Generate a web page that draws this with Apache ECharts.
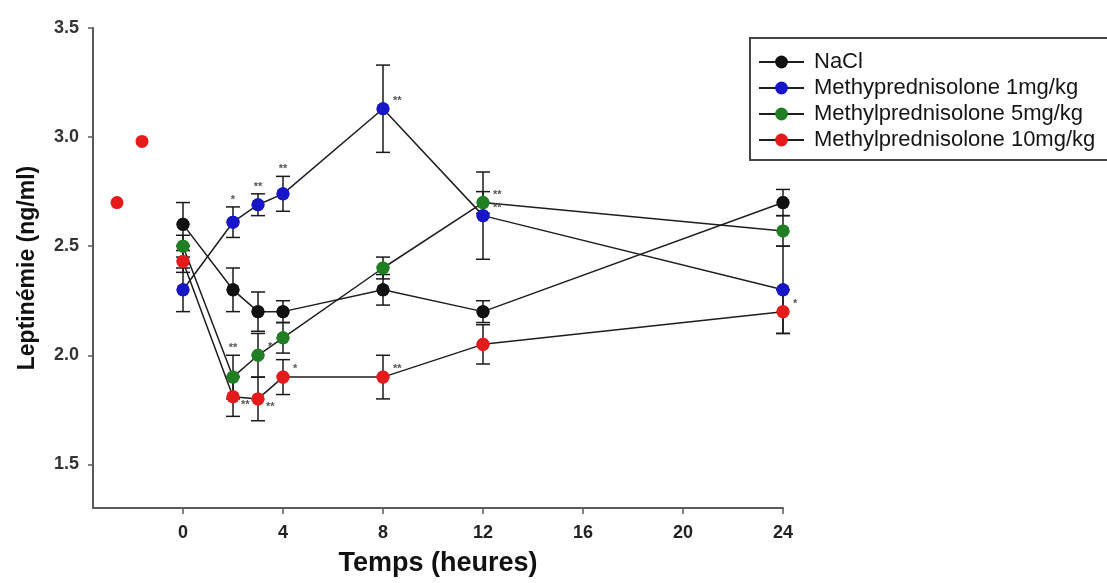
<!DOCTYPE html>
<html>
<head>
<meta charset="utf-8">
<script src="https://cdn.jsdelivr.net/npm/echarts@6/dist/echarts.min.js"></script>
<style>
  html, body { margin: 0; padding: 0; background: #ffffff; }
  #chart { width: 1107px; height: 583px; }
</style>
</head>
<body>
<div id="chart"></div>
<script>
// ---- data ----
const times = [0, 2, 3, 4, 8, 12, 24];
const seriesNames = ['NaCl', 'Methyprednisolone 1mg/kg', 'Methylprednisolone 5mg/kg', 'Methylprednisolone 10mg/kg'];
const naclValues = [2.60, 2.30, 2.20, 2.20, 2.30, 2.20, 2.70];
const naclErrors = [0.10, 0.10, 0.09, 0.05, 0.07, 0.05, 0.06];
const mp1Values = [2.30, 2.61, 2.69, 2.74, 3.13, 2.64, 2.30];
const mp1Errors = [0.10, 0.07, 0.05, 0.08, 0.20, 0.20, 0.20];
const mp5Values = [2.50, 1.90, 2.00, 2.08, 2.40, 2.70, 2.57];
const mp5Errors = [0.05, 0.10, 0.10, 0.07, 0.05, 0.05, 0.07];
const mp10Values = [2.43, 1.81, 1.80, 1.90, 1.90, 2.05, 2.20];
const mp10Errors = [0.05, 0.09, 0.10, 0.08, 0.10, 0.09, 0.10];
const naclSig = ['', '', '', '', '', '', ''];
const mp1Sig = ['', '*', '**', '**', '**', '**', ''];
const mp5Sig = ['', '**', '*', '', '', '**', ''];
const mp10Sig = ['', '**', '**', '*', '**', '', '*'];
const extraRedTimes = [-2.64, -1.64];
const extraRedValues = [2.70, 2.98];
const yTicks = [1.5, 2.0, 2.5, 3.0, 3.5];
const xTicks = [0, 4, 8, 12, 16, 20, 24];

// ---- styling ----
const FONT = "'Liberation Sans', Arial, sans-serif";
const colors = ['#111111', '#1616c8', '#1f7f22', '#e51b1b'];
const allValues = [naclValues, mp1Values, mp5Values, mp10Values];
const allErrors = [naclErrors, mp1Errors, mp5Errors, mp10Errors];
const allSig = [naclSig, mp1Sig, mp5Sig, mp10Sig];
// where the significance marks sit relative to the point
const sigAbove = { '1-1': 1, '1-2': 1, '1-3': 1, '2-1': 1 };
const sigBelow = { '3-1': 1, '3-2': 1 };

const series = [];
// connecting lines (first, so the legend takes its icon from them)
allValues.forEach((vals, si) => {
  series.push({
    type: 'line',
    name: seriesNames[si],
    z: 2,
    symbol: 'circle',
    symbolSize: 13,
    itemStyle: { color: colors[si], opacity: 1 },
    lineStyle: { color: '#1e1e1e', width: 1.5 },
    data: times.map((t, i) => [t, vals[i]])
  });
});
// error bars
allValues.forEach((vals, si) => {
  series.push({
    type: 'custom',
    name: seriesNames[si],
    z: 1,
    silent: true,
    data: times.map((t, i) => [t, vals[i] - allErrors[si][i], vals[i] + allErrors[si][i]]),
    renderItem: function (params, api) {
      const lo = api.coord([api.value(0), api.value(1)]);
      const hi = api.coord([api.value(0), api.value(2)]);
      const hw = 7;
      const st = { stroke: '#1a1a1a', lineWidth: 1.5 };
      return {
        type: 'group',
        children: [
          { type: 'line', shape: { x1: lo[0], y1: lo[1], x2: hi[0], y2: hi[1] }, style: st },
          { type: 'line', shape: { x1: lo[0] - hw, y1: lo[1], x2: lo[0] + hw, y2: lo[1] }, style: st },
          { type: 'line', shape: { x1: hi[0] - hw, y1: hi[1], x2: hi[0] + hw, y2: hi[1] }, style: st }
        ]
      };
    }
  });
});
// markers on top
allValues.forEach((vals, si) => {
  series.push({
    type: 'scatter',
    name: seriesNames[si],
    z: 4,
    symbol: 'circle',
    symbolSize: 13,
    itemStyle: { color: colors[si], opacity: 1 },
    data: times.map((t, i) => [t, vals[i]])
  });
});
// isolated red points
series.push({
  type: 'scatter',
  name: seriesNames[3],
  z: 4,
  symbol: 'circle',
  symbolSize: 13,
  itemStyle: { color: colors[3], opacity: 1 },
  data: extraRedTimes.map((t, i) => [t, extraRedValues[i]])
});
// significance marks
allValues.forEach((vals, si) => {
  series.push({
    type: 'custom',
    name: seriesNames[si],
    z: 5,
    silent: true,
    data: times.map((t, i) => [t, vals[i], vals[i] + allErrors[si][i]]),
    renderItem: function (params, api) {
      const i = params.dataIndex;
      const txt = allSig[si][i];
      if (!txt) return null;
      const key = si + '-' + i;
      let x, y;
      const p = api.coord([api.value(0), api.value(1)]);
      if (sigAbove[key]) {
        const top = api.coord([api.value(0), api.value(2)]);
        x = top[0]; y = top[1] - 7;
        return { type: 'text', style: { text: txt, x: x, y: y, fill: '#555', font: 'bold 11px ' + FONT, align: 'center', verticalAlign: 'middle' } };
      } else if (sigBelow[key]) {
        x = p[0] + 8; y = p[1] + 8;
      } else {
        x = p[0] + 10; y = p[1] - 8;
      }
      return { type: 'text', style: { text: txt, x: x, y: y, fill: '#555', font: 'bold 11px ' + FONT, align: 'left', verticalAlign: 'middle' } };
    }
  });
});

const chart = echarts.init(document.getElementById('chart'), null, { renderer: 'canvas' });
chart.setOption({
  animation: false,
  backgroundColor: '#ffffff',
  textStyle: { fontFamily: FONT },
  grid: { left: 93, right: 324, top: 28, bottom: 75, containLabel: false, outerBoundsMode: 'none' },
  legend: {
    data: seriesNames,
    orient: 'vertical',
    left: 750,
    top: 38,
    itemWidth: 45,
    itemHeight: 16,
    itemGap: 4,
    padding: [13, 40, 9, 8],
    borderColor: '#444444',
    borderWidth: 2,
    textStyle: { fontSize: 22, color: '#151515', fontFamily: FONT, lineHeight: 21, padding: [0, 0, 0, 5] }
  },
  xAxis: {
    type: 'value',
    min: -3.6,
    max: 24,
    name: 'Temps (heures)',
    nameLocation: 'middle',
    nameGap: 42,
    nameTextStyle: { fontSize: 27, fontWeight: 'bold', color: '#111', fontFamily: FONT },
    axisLine: { show: true, onZero: false, lineStyle: { color: '#5a5a5a', width: 2 } },
    axisTick: { show: true, inside: false, length: 6, customValues: xTicks, lineStyle: { color: '#5a5a5a', width: 1.5 } },
    axisLabel: { customValues: xTicks, margin: 16, fontSize: 18, fontWeight: 'bold', color: '#222', fontFamily: FONT },
    splitLine: { show: false }
  },
  yAxis: {
    type: 'value',
    min: 1.3,
    max: 3.5,
    name: 'Leptinémie (ng/ml)',
    nameLocation: 'middle',
    nameGap: 54,
    nameTextStyle: { fontSize: 23, fontWeight: 'bold', color: '#111', fontFamily: FONT },
    axisLine: { show: true, onZero: false, lineStyle: { color: '#5a5a5a', width: 2 } },
    axisTick: { show: true, inside: false, length: 5, customValues: yTicks, lineStyle: { color: '#5a5a5a', width: 1.5 } },
    axisLabel: { customValues: yTicks, margin: 14, fontSize: 18, fontWeight: 'bold', color: '#333', fontFamily: FONT,
      formatter: v => Number(v).toFixed(1) },
    splitLine: { show: false }
  },
  series: series
});
</script>
</body>
</html>
